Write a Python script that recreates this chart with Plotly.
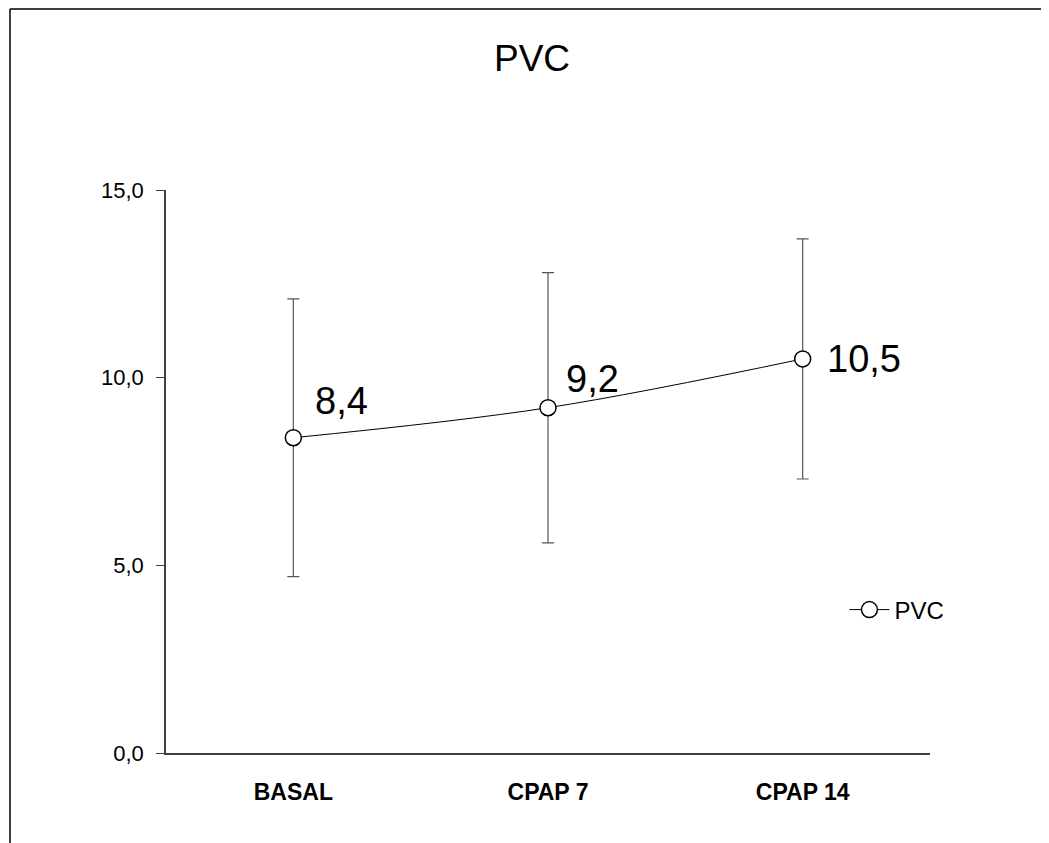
import plotly.graph_objects as go

categories = ["BASAL", "CPAP 7", "CPAP 14"]
means = [8.4, 9.2, 10.5]
sds = [3.7, 3.6, 3.2]
labels = ["8,4", "9,2", "10,5"]
label_xshift = [20, 16, 22]
label_yshift = [37, 29, 0]
y_ticks = [0, 5, 10, 15]

FONT = "Liberation Sans, Arial, sans-serif"

fig = go.Figure()
fig.add_trace(go.Scatter(
    x=categories, y=means, name="PVC",
    mode="lines+markers",
    line=dict(color="black", width=1, shape="spline"),
    marker=dict(symbol="circle", size=16, color="white", line=dict(color="black", width=1.5)),
    error_y=dict(type="data", array=sds, visible=True, color="#555555", thickness=1.2, width=6),
))

annotations = [
    dict(x=c, y=m, xref="x", yref="y", text=t, showarrow=False,
         xanchor="left", yanchor="middle", xshift=xs, yshift=ys,
         font=dict(family=FONT, size=38, color="black"))
    for c, m, t, xs, ys in zip(categories, means, labels, label_xshift, label_yshift)
]

W, H = 1041, 835
L, T = 158, 182
PW, PH = 764, 563

fig.update_layout(
    width=W, height=H,
    paper_bgcolor="white", plot_bgcolor="white",
    margin=dict(l=L, r=W - L - PW, t=T, b=H - T - PH, autoexpand=False),
    separators=",.",
    title=dict(text="PVC", x=(532 - 8) / W, xanchor="center", y=1 - (58 - 8) / H, yanchor="middle",
               font=dict(family=FONT, size=37, color="black")),
    font=dict(family=FONT, color="black"),
    showlegend=True,
    legend=dict(x=0.888, y=0.254, xanchor="left", yanchor="middle",
                font=dict(size=24), bgcolor="rgba(0,0,0,0)", itemwidth=40),
    xaxis=dict(
        type="category", range=[-0.5, 2.5],
        tickmode="array", tickvals=categories,
        ticktext=["<b>" + c + "</b>" for c in categories],
        showline=True, linecolor="#404040", linewidth=1.5,
        ticks="", showgrid=False, zeroline=False,
        tickfont=dict(size=23), ticklabelstandoff=18,
    ),
    yaxis=dict(
        range=[0, 15], tickmode="array", tickvals=y_ticks, tickformat=".1f",
        showline=True, linecolor="#404040", linewidth=1.5,
        ticks="outside", ticklen=8, tickcolor="#404040",
        showgrid=False, zeroline=False,
        tickfont=dict(size=22), ticklabelstandoff=8,
    ),
    annotations=annotations,
    shapes=[
        dict(type="line", xref="paper", yref="paper",
             x0=-156 / PW, x1=(W - L) / PW, y0=1 + (T - 1) / PH, y1=1 + (T - 1) / PH,
             line=dict(color="black", width=1.5)),
        dict(type="line", xref="paper", yref="paper",
             x0=-156 / PW, x1=-156 / PW, y0=1 + (T - 1) / PH, y1=-(H - T - PH) / PH,
             line=dict(color="black", width=1.5)),
    ],
)

fig.write_html("out.html")
